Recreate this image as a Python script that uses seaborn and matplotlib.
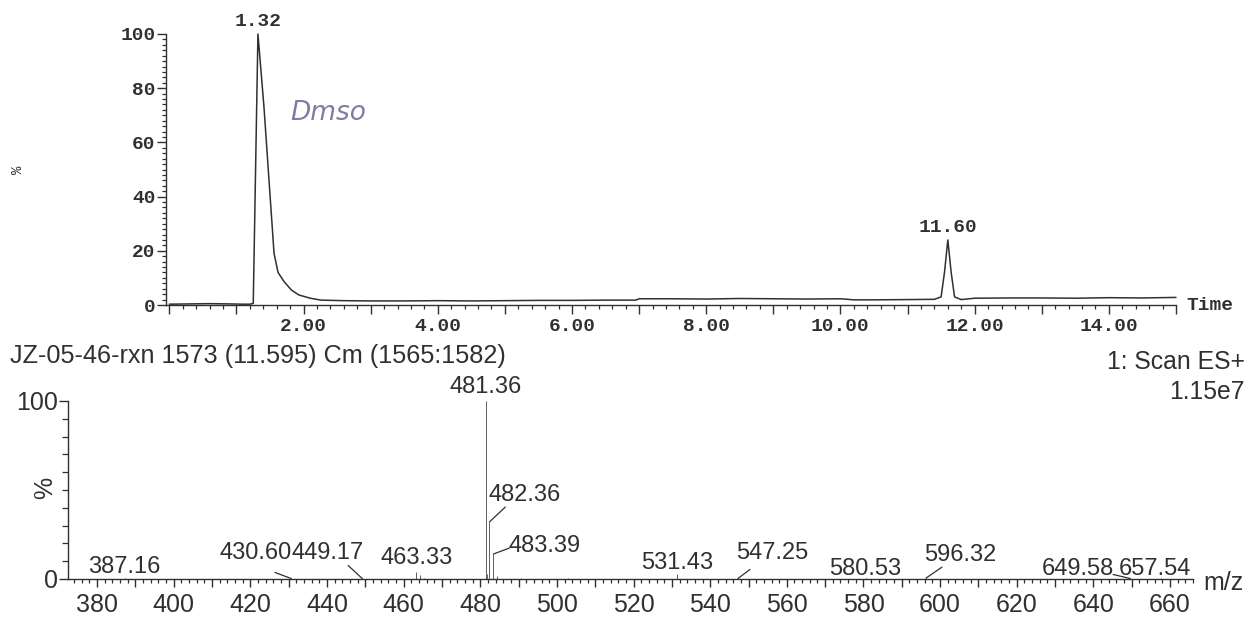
import matplotlib
matplotlib.use("Agg")
import matplotlib.pyplot as plt
from matplotlib.ticker import MultipleLocator, FixedLocator, FuncFormatter
import pandas as pd
import seaborn as sns

# ---------------- data ----------------
# Total ion chromatogram: retention time (min) and relative intensity (%)
tic_time = [0.00, 0.30, 0.60, 0.90, 1.10, 1.20, 1.25, 1.32, 1.41, 1.46, 1.56,
            1.62, 1.71, 1.82, 1.93, 2.10, 2.26, 2.60, 3.00, 3.50, 4.00, 4.50,
            5.00, 5.50, 6.00, 6.50, 6.95, 7.00, 7.50, 8.00, 8.50, 9.00, 9.50,
            10.00, 10.20, 10.50, 11.00, 11.40, 11.50, 11.55, 11.60, 11.65,
            11.70, 11.80, 12.00, 12.50, 13.00, 13.50, 14.00, 14.50, 15.00]
tic_intensity = [0.3, 0.4, 0.5, 0.4, 0.3, 0.3, 0.6, 100.0, 73.0, 55.0, 19.0,
                 12.0, 8.6, 5.5, 3.7, 2.5, 1.8, 1.6, 1.5, 1.5, 1.6, 1.5,
                 1.6, 1.7, 1.7, 1.8, 1.8, 2.3, 2.3, 2.2, 2.4, 2.3, 2.2,
                 2.3, 1.9, 1.9, 2.0, 2.1, 3.0, 12.0, 24.0, 12.0,
                 3.0, 2.0, 2.5, 2.6, 2.6, 2.5, 2.7, 2.6, 2.8]
tic_peak_times = [1.32, 11.60]
tic_peak_heights = [100.0, 24.0]
tic_xtick_labels = ["2.00", "4.00", "6.00", "8.00", "10.00", "12.00", "14.00"]

# Mass spectrum at 11.595 min (scan 1573): labelled lines
ms_mz = [387.16, 430.60, 449.17, 463.33, 481.36, 482.36, 483.39,
         531.43, 547.25, 580.53, 596.32, 649.58, 657.54]
ms_intensity = [0.5, 0.3, 0.3, 4.0, 100.0, 32.0, 14.0,
                3.0, 0.3, 0.4, 0.5, 0.3, 0.5]
# unlabelled minor lines
ms_minor_mz = [464.3, 465.3, 481.8, 484.4, 490.5, 503.0]
ms_minor_intensity = [2.0, 0.8, 3.0, 1.5, 0.5, 0.8]
ms_xtick_labels = ["380", "400", "420", "440", "460", "480", "500", "520",
                   "540", "560", "580", "600", "620", "640", "660"]

# ---------------- layout ----------------
W, H = 1255, 617
# label text offset (px) from the top of each labelled line, and leader start (px) or None
ms_text_offsets = [(0, 11), (-35, 25), (-35, 25), (0, 14), (0, 14), (35, 27), (51, 8),
                   (0, 11), (34, 25), (0, 9), (34, 23), (-52, 9), (-6, 9)]
ms_leader_offsets = [None, (-16, 6), (-14, 13), None, None, (16, 15), (16, 6),
                     None, (12, 9), None, (16, 11), (-17, 4), None]

INK = "#303030"
MONO = ["Liberation Mono", "DejaVu Sans Mono"]
SANS = ["Liberation Sans", "DejaVu Sans"]

sns.set_style("ticks")
plt.rcParams["font.family"] = SANS
plt.rcParams["axes.edgecolor"] = INK
plt.rcParams["axes.linewidth"] = 1.0
plt.rcParams["xtick.color"] = INK
plt.rcParams["ytick.color"] = INK

fig = plt.figure(figsize=(W / 100, H / 100), dpi=100)
fig.patch.set_facecolor("white")


def frac_box(left, top, right, bottom):
    return [left / W, 1 - bottom / H, (right - left) / W, (bottom - top) / H]


# ---------------- chromatogram ----------------
ax1 = fig.add_axes(frac_box(166, 34, 1176, 305))
tic = pd.DataFrame({"time": tic_time, "intensity": tic_intensity})
sns.lineplot(data=tic, x="time", y="intensity", ax=ax1, color=INK,
             linewidth=1.1, estimator=None, sort=False, clip_on=False)
ax1.set_xlim(-0.05, 15.0)
ax1.set_ylim(0, 100)
ax1.set_xlabel("")
ax1.set_ylabel("")
sns.despine(ax=ax1)

ax1.xaxis.set_major_locator(MultipleLocator(1.0))
ax1.xaxis.set_minor_locator(MultipleLocator(0.2))
tic_label_map = {int(s.split(".")[0]): s for s in tic_xtick_labels}
ax1.xaxis.set_major_formatter(FuncFormatter(
    lambda v, p: tic_label_map.get(int(round(v)), "") if abs(v - round(v)) < 1e-6 else ""))
ax1.yaxis.set_major_locator(MultipleLocator(20))
ax1.yaxis.set_minor_locator(MultipleLocator(2))
ax1.yaxis.set_major_formatter(FuncFormatter(lambda v, p: f"{v:.0f}"))
ax1.tick_params(axis="x", which="major", length=6.5, width=1.0, pad=3)
ax1.tick_params(axis="x", which="minor", length=3.2, width=0.9)
ax1.tick_params(axis="y", which="major", length=6.5, width=1.0, pad=1)
ax1.tick_params(axis="y", which="minor", length=3.0, width=0.9)
for lab in ax1.get_xticklabels() + ax1.get_yticklabels():
    lab.set_fontfamily(MONO)
    lab.set_fontweight("bold")
    lab.set_fontsize(14)
    lab.set_color(INK)

for t, h in zip(tic_peak_times, tic_peak_heights):
    ax1.annotate(f"{t:.2f}", xy=(t, h), xytext=(0, 12), textcoords="offset pixels",
                 ha="center", va="center", fontsize=14, fontweight="bold",
                 family=MONO, color=INK, annotation_clip=False)

ax1.text(2.37, 71, "Dmso", fontsize=19, fontstyle="italic", fontweight="light",
         color="#8677a6", family=["DejaVu Sans"], ha="center", va="center")

fig.text(18 / W, 1 - 170 / H, "%", rotation=90, fontsize=10, family=MONO,
         color=INK, ha="center", va="center")
fig.text(1186 / W, 1 - 305 / H, "Time", fontsize=14, fontweight="bold",
         family=MONO, color=INK, ha="left", va="center")

# ---------------- mass spectrum ----------------
ax2 = fig.add_axes(frac_box(68, 401, 1193, 579))
ax2.vlines(ms_minor_mz, 0, ms_minor_intensity, color="#606060", linewidth=0.7,
           clip_on=False)
ax2.vlines(ms_mz, 0, ms_intensity, color="#606060", linewidth=0.7, clip_on=False)
ax2.set_xlim(372.4, 666.0)
ax2.set_ylim(0, 100)
sns.despine(ax=ax2)

ax2.xaxis.set_major_locator(MultipleLocator(10))
ax2.xaxis.set_minor_locator(MultipleLocator(2))
ms_label_set = set(ms_xtick_labels)
ax2.xaxis.set_major_formatter(FuncFormatter(
    lambda v, p: f"{v:.0f}" if f"{v:.0f}" in ms_label_set else ""))
ax2.yaxis.set_major_locator(FixedLocator([0, 100]))
ax2.yaxis.set_minor_locator(MultipleLocator(10))
ax2.yaxis.set_major_formatter(FuncFormatter(lambda v, p: f"{v:.0f}"))
ax2.tick_params(axis="x", which="major", length=6.0, width=1.0, pad=4,
                labelsize=18, labelcolor=INK)
ax2.tick_params(axis="x", which="minor", length=3.2, width=0.9)
ax2.tick_params(axis="y", which="major", length=6.5, width=1.0, pad=1,
                labelsize=18, labelcolor=INK)
ax2.tick_params(axis="y", which="minor", length=4.2, width=0.9)

for mz, h, toff, loff in zip(ms_mz, ms_intensity, ms_text_offsets, ms_leader_offsets):
    ax2.annotate(f"{mz:.2f}", xy=(mz, h), xytext=toff, textcoords="offset pixels",
                 ha="center", va="center", fontsize=17, color=INK,
                 annotation_clip=False)
    if loff is not None:
        ax2.annotate("", xy=(mz, h), xytext=loff, textcoords="offset pixels",
                     arrowprops=dict(arrowstyle="-", color=INK, lw=0.9,
                                     shrinkA=0, shrinkB=0),
                     annotation_clip=False)

fig.text(45 / W, 1 - 488 / H, "%", rotation=90, fontsize=18, color=INK,
         ha="center", va="center")
fig.text(1203 / W, 1 - 583 / H, "m/z", fontsize=18, color=INK,
         ha="left", va="center")

fig.text(10 / W, 1 - 356 / H, "JZ-05-46-rxn 1573 (11.595) Cm (1565:1582)",
         fontsize=18.2, color=INK, ha="left", va="center")
fig.text(1245 / W, 1 - 362 / H, "1: Scan ES+", fontsize=17.8, color=INK,
         ha="right", va="center")
fig.text(1245 / W, 1 - 392 / H, "1.15e7", fontsize=17.8, color=INK,
         ha="right", va="center")

fig.savefig("out.png", dpi=100, facecolor="white")
